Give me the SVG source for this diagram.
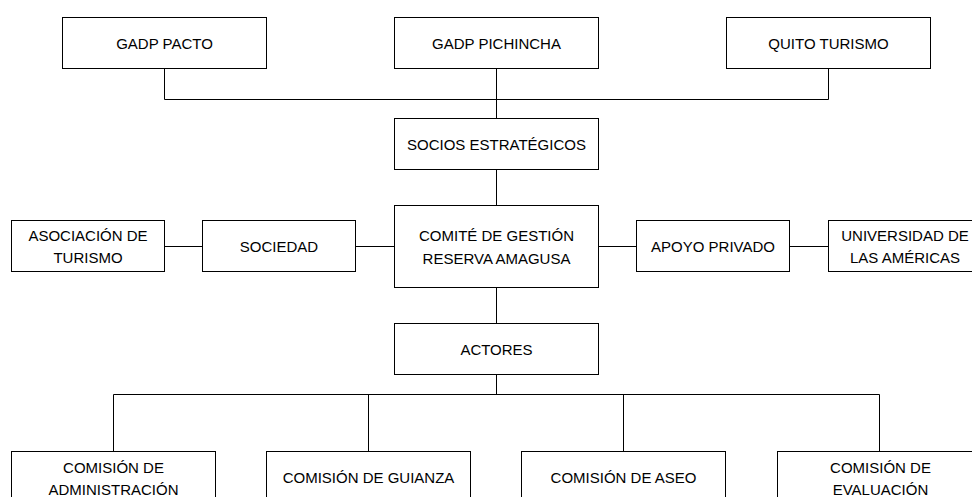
<svg xmlns="http://www.w3.org/2000/svg" width="972" height="497" viewBox="0 0 972 497">
<style>
.box{fill:#fff;stroke:#000;stroke-width:1}
.con{fill:none;stroke:#000;stroke-width:1}
text{font-family:"Liberation Sans",Arial,sans-serif;font-size:15px;fill:#000;text-anchor:middle}
</style>
<rect width="972" height="497" fill="#fff"/>
<g id="connectors" class="con">
<path d="M164.5 68.5V99.5H828.5V68.5"/>
<path d="M496.5 68.5V118.5"/>
<path d="M496.5 169.5V205.5"/>
<path d="M496.5 287.5V323.5"/>
<path d="M164.5 246.5H202.5"/>
<path d="M355.5 246.5H394.5"/>
<path d="M598.5 246.5H636.5"/>
<path d="M789.5 246.5H828.5"/>
<path d="M496.5 374.5V394.5"/>
<path d="M113.5 451.5V394.5H879.5V451.5"/>
<path d="M368.5 394.5V451.5"/>
<path d="M623.5 394.5V451.5"/>
</g>
<g id="gadp-pacto"><rect class="box" x="62.5" y="17.5" width="204" height="51"/><text x="164.5" y="48.5">GADP PACTO</text></g>
<g id="gadp-pichincha"><rect class="box" x="394.5" y="17.5" width="204" height="51"/><text x="496.5" y="48.5">GADP PICHINCHA</text></g>
<g id="quito-turismo"><rect class="box" x="726.5" y="17.5" width="204" height="51"/><text x="828.5" y="48.5">QUITO TURISMO</text></g>
<g id="socios"><rect class="box" x="394.5" y="118.5" width="204" height="51"/><text x="496.5" y="149.5">SOCIOS ESTRATÉGICOS</text></g>
<g id="comite"><rect class="box" x="394.5" y="205.5" width="204" height="82"/><text x="496.5" y="241">COMITÉ DE GESTIÓN</text><text x="496.5" y="263.5">RESERVA AMAGUSA</text></g>
<g id="asociacion"><rect class="box" x="11.5" y="220.5" width="153" height="51"/><text x="88" y="241">ASOCIACIÓN DE</text><text x="88" y="263">TURISMO</text></g>
<g id="sociedad"><rect class="box" x="202.5" y="220.5" width="153" height="51"/><text x="279" y="251.5">SOCIEDAD</text></g>
<g id="apoyo-privado"><rect class="box" x="636.5" y="220.5" width="153" height="51"/><text x="713" y="251.5">APOYO PRIVADO</text></g>
<g id="universidad"><rect class="box" x="828.5" y="220.5" width="153" height="51"/><text x="905" y="241">UNIVERSIDAD DE</text><text x="905" y="263">LAS AMÉRICAS</text></g>
<g id="actores"><rect class="box" x="394.5" y="323.5" width="204" height="51"/><text x="496.5" y="354.5">ACTORES</text></g>
<g id="com-administracion"><rect class="box" x="11.5" y="451.5" width="204" height="52"/><text x="113.5" y="473">COMISIÓN DE</text><text x="113.5" y="495">ADMINISTRACIÓN</text></g>
<g id="com-guianza"><rect class="box" x="266.5" y="451.5" width="204" height="52"/><text x="368.5" y="483">COMISIÓN DE GUIANZA</text></g>
<g id="com-aseo"><rect class="box" x="521.5" y="451.5" width="204" height="52"/><text x="623.5" y="483">COMISIÓN DE ASEO</text></g>
<g id="com-evaluacion"><rect class="box" x="777.5" y="451.5" width="204" height="52"/><text x="880.5" y="473">COMISIÓN DE</text><text x="880.5" y="495">EVALUACIÓN</text></g>
</svg>
